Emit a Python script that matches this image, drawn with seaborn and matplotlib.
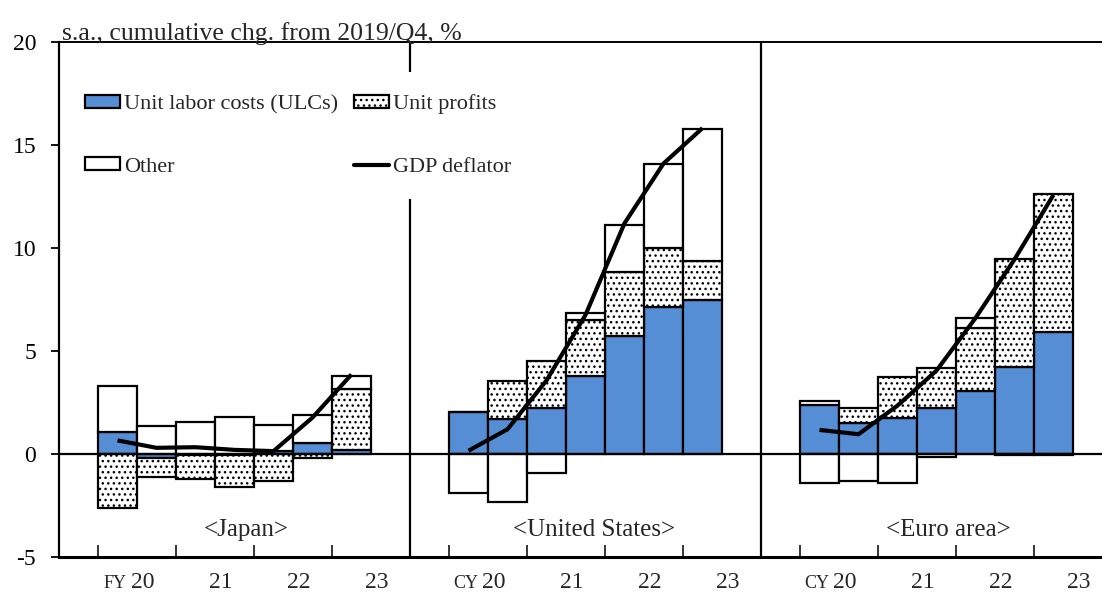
import numpy as np
import pandas as pd
import matplotlib
matplotlib.use("Agg")
import matplotlib.pyplot as plt
import seaborn as sns
from matplotlib.patches import Patch
from matplotlib.lines import Line2D

# ---------------- data ----------------
regions = ["<Japan>", "<United States>", "<Euro area>"]
year_prefix = ["FY", "CY", "CY"]
year_labels = ["20", "21", "22", "23"]

japan_ulc = [1.05, -0.20, -0.05, -0.03, 0.15, 0.52, 0.17]
japan_profits = [-2.63, -0.90, -1.15, -1.55, -1.32, -0.18, 3.00]
japan_other = [2.25, 1.35, 1.55, 1.79, 1.28, 1.38, 0.64]
japan_deflator = [0.66, 0.30, 0.33, 0.20, 0.14, 1.77, 3.86]

us_ulc = [2.06, 1.70, 2.22, 3.80, 5.75, 7.13, 7.50]
us_profits = [0.00, 1.83, 2.28, 2.70, 3.08, 2.87, 1.85]
us_other = [-1.90, -2.35, -0.92, 0.33, 2.30, 4.08, 6.43]
us_deflator = [0.16, 1.20, 3.57, 6.75, 11.2, 14.1, 15.82]

euro_ulc = [2.38, 1.49, 1.73, 2.22, 3.06, 4.24, 5.94]
euro_profits = [0.21, 0.76, 1.99, 1.94, 3.07, 5.23, 6.67]
euro_other = [-1.42, -1.30, -1.42, -0.13, 0.49, -0.05, -0.05]
euro_deflator = [1.17, 0.96, 2.35, 4.05, 6.60, 9.45, 12.58]

label_ulc = "Unit labor costs (ULCs)"
label_profits = "Unit profits"
label_other = "Other"
label_deflator = "GDP deflator"

# ---------------- style ----------------
sns.set_theme(style="white")
plt.rcParams["font.family"] = ["Liberation Serif", "DejaVu Serif"]
plt.rcParams["hatch.linewidth"] = 1.0
plt.rcParams["hatch.color"] = "black"

BLUE = "#558ED5"
FS = 17

fig = plt.figure(figsize=(11.02, 5.99), dpi=100)
ax = fig.add_axes([59 / 1102, 1 - 557 / 599, 1043 / 1102, 515 / 599])

panels = [
    (japan_ulc, japan_profits, japan_other, japan_deflator),
    (us_ulc, us_profits, us_other, us_deflator),
    (euro_ulc, euro_profits, euro_other, euro_deflator),
]

rows = []
for p, (ulc, prof, oth, defl) in enumerate(panels):
    n = len(ulc)
    x = 9 * p + 1.5 + np.arange(n)
    pos_base = np.zeros(n)
    neg_base = np.zeros(n)
    for vals, style in [
        (ulc, dict(facecolor=BLUE, hatch=None)),
        (prof, dict(facecolor="white", hatch="...")),
        (oth, dict(facecolor="white", hatch=None)),
    ]:
        v = np.asarray(vals, dtype=float)
        bottom = np.where(v >= 0, pos_base, neg_base)
        ax.bar(x, v, width=1.0, bottom=bottom, edgecolor="black",
               linewidth=1.6, zorder=2, **style)
        pos_base = pos_base + np.where(v >= 0, v, 0)
        neg_base = neg_base + np.where(v < 0, v, 0)
    for xi, d in zip(x, defl):
        rows.append(dict(panel=p, x=xi, deflator=d))

df = pd.DataFrame(rows)
for p in range(3):
    sns.lineplot(data=df[df.panel == p], x="x", y="deflator", color="black",
                 linewidth=3.0, ax=ax, zorder=4, legend=False,
                 solid_capstyle="butt")

# zero line and separators
ax.axhline(0, color="black", linewidth=1.6, zorder=3)
for s in [9, 18]:
    ax.axvline(s, color="black", linewidth=1.6, zorder=3)

ax.set_xlim(0, 1043 / 39)
ax.set_ylim(-5, 20)
ax.set_xlabel("")
ax.set_ylabel("")

# spines
for side in ["left", "top", "bottom"]:
    ax.spines[side].set_visible(True)
    ax.spines[side].set_color("black")
ax.spines["left"].set_linewidth(1.6)
ax.spines["top"].set_linewidth(1.4)
ax.spines["bottom"].set_linewidth(2.2)
ax.spines["right"].set_visible(False)

# y ticks
ax.set_yticks([-5, 0, 5, 10, 15, 20])
ax.set_yticklabels(["-5", "0", "5", "10", "15", "20"])
ax.tick_params(axis="y", direction="out", length=5.5, width=1.3, pad=11,
               labelsize=FS, left=True, colors="black")

# x ticks (inward, at bar pair boundaries)
xt = []
for p in range(3):
    xt += [9 * p + 1, 9 * p + 3, 9 * p + 5, 9 * p + 7]
ax.set_xticks(xt)
ax.set_xticklabels([])
ax.tick_params(axis="x", direction="in", length=9, width=1.3, bottom=True)

# x labels
for p in range(3):
    for k, lab in enumerate(year_labels):
        xc = 9 * p + 2.15 + 2 * k
        ax.text(xc, -6.25, lab, ha="center", va="center", fontsize=FS,
                clip_on=False)
    ax.annotate(year_prefix[p], xy=(9 * p + 2.15, -6.25),
                xytext=(-11.5, -0.5), textcoords="offset points",
                ha="right", va="center", fontsize=13, annotation_clip=False)

# panel labels
for xc, lab in zip([4.8, 13.72, 22.8], regions):
    ax.text(xc, -3.69, lab, ha="center", va="center", fontsize=18, zorder=5)

# title / unit label
fig.text(62 / 1102, 1 - 45 / 599, "s.a., cumulative chg. from 2019/Q4, %",
         ha="left", va="bottom", fontsize=18.5)

# legend
LFS = 16
handles = [
    Patch(facecolor=BLUE, edgecolor="black", linewidth=1.6, label=label_ulc),
    Patch(facecolor="white", edgecolor="black", linewidth=1.6, label=label_other),
    Patch(facecolor="white", edgecolor="black", linewidth=1.6, hatch="...",
          label=label_profits),
    Line2D([0], [0], color="black", linewidth=3.0, label=label_deflator),
]
leg = ax.legend(handles=handles, ncol=2, loc="upper left",
                bbox_to_anchor=(4 / 1043, 1 - 30 / 515), fontsize=LFS,
                frameon=True, facecolor="white", edgecolor="none", framealpha=1,
                fancybox=False, handlelength=1.58, handleheight=0.5,
                handletextpad=0.18, columnspacing=0.68, labelspacing=1.95,
                borderpad=1.0, borderaxespad=0)
leg.set_zorder(10)

fig.savefig("out.png", dpi=100)
